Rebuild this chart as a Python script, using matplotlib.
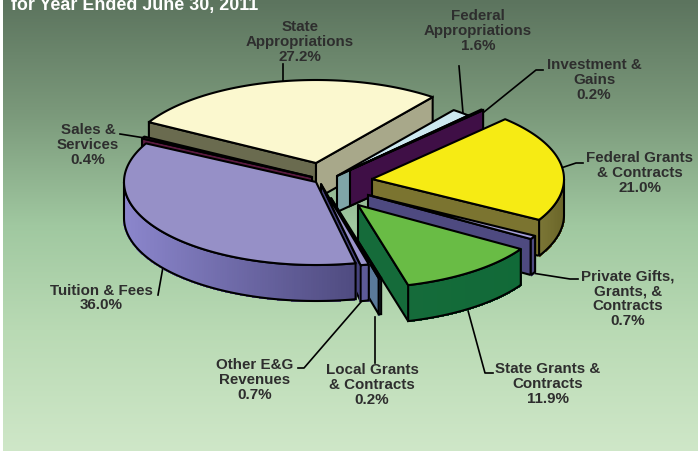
# 3d exploded pie of revenue shares, drawn by hand since matplotlib has no tilted pie
import numpy as np
import matplotlib
matplotlib.use('Agg')
import matplotlib.pyplot as plt
from matplotlib.patches import Polygon
from matplotlib.colors import to_rgb

names = ['State\nAppropriations', 'Federal\nAppropriations', 'Investment &\nGains',
         'Federal Grants\n& Contracts', 'Private Gifts,\nGrants, &\nContracts',
         'State Grants &\nContracts', 'Local Grants\n& Contracts', 'Other E&G\nRevenues',
         'Tuition & Fees', 'Sales &\nServices']
shares = [27.2, 1.6, 0.2, 21.0, 0.7, 11.9, 0.2, 0.7, 36.0, 0.4]
title = 'for Year Ended June 30, 2011'

# layout, in pixels of the 698x451 figure
tip_x = [316, 337, 350, 372, 368, 358, 331, 321, 316, 312]
tip_y = [163, 176, 170, 179, 195, 205, 198, 184, 182, 177]
label_x = [300, 478, 594, 640, 628, 548, 372, 255, 101, 88]
label_y = [42, 31, 80, 173, 299, 384, 385, 380, 298, 145]
leaders = [[(283, 64), (283, 81)],
           [(459, 66), (463, 113)],
           [(543, 70), (536, 70), (484, 112)],
           [(583, 163), (576, 163), (558, 169)],
           [(578, 279), (570, 279), (532, 273)],
           [(493, 373), (485, 373), (467, 307)],
           [(375, 363), (375, 317)],
           [(298, 368), (304, 368), (361, 302)],
           [(158, 295), (163, 267)],
           [(120, 134), (145, 138)]]

top_col = ['#fbf8cf', '#cde9f0', '#5a2560', '#f6eb14', '#a59fd8',
           '#69bc45', '#dfe9ea', '#9a94cc', '#9690c7', '#7a1f4f']
start_face = ['#6a6b4f', '#7fa5a8', '#3f0f46', '#7b7430', '#4e4a80',
              '#156b3a', '#5a7a9a', '#45427c', '#5d5a98', '#5a1a40']
end_face = ['#a8a88a', '#7fa5a8', '#3f0f46', '#7b7430', '#4e4a80',
            '#156b3a', '#5a7a9a', '#45427c', '#5d5a98', '#5a1a40']
rim_left = ['#a8a88a', '#7fa5a8', '#3f0f46', '#7b7636', '#4e4a80',
            '#156b3a', '#5a7a9a', '#5d5a98', '#8b86cc', '#5a1a40']
rim_right = ['#a8a88a', '#7fa5a8', '#3f0f46', '#6a6528', '#4e4a80',
             '#116a38', '#5a7a9a', '#5d5a98', '#4f4b80', '#5a1a40']
draw_order = [0, 1, 2, 3, 4, 5, 9, 6, 7, 8]

rx, ry, depth = 192, 83, 36
start_angle = 150.5
lw = 1.5


def rim(cx, cy, t):
    return cx + rx * np.cos(np.radians(t)), cy - ry * np.sin(np.radians(t))


def draw_slice(ax, i, t0, t1, z):
    cx, cy = tip_x[i], tip_y[i]
    # cut faces, only the ones looking at the viewer
    for t, col, show in [(t0, start_face[i], np.cos(np.radians(t0)) < 0),
                         (t1, end_face[i], np.cos(np.radians(t1)) > 0)]:
        if show:
            x, y = rim(cx, cy, t)
            ax.add_patch(Polygon([(cx, cy), (x, y), (x, y + depth), (cx, cy + depth)],
                                 fc=col, ec='black', lw=lw, zorder=z))
    # outer wall, shaded left to right
    tt = np.linspace(t0, t1, 160)
    tt = tt[np.sin(np.radians(tt)) < 0]
    if len(tt) > 1:
        xs, ys = rim(cx, cy, tt)
        c0, c1 = np.array(to_rgb(rim_left[i])), np.array(to_rgb(rim_right[i]))
        for k in range(len(tt) - 1):
            f = (xs[k] - xs.min()) / max(xs.max() - xs.min(), 1)
            col = c0 + (c1 - c0) * f
            ax.add_patch(Polygon([(xs[k], ys[k]), (xs[k + 1], ys[k + 1]),
                                  (xs[k + 1], ys[k + 1] + depth), (xs[k], ys[k] + depth)],
                                 fc=col, ec=col, lw=1.0, antialiased=False, zorder=z))
        outline = list(zip(xs, ys)) + list(zip(xs[::-1], ys[::-1] + depth))
        ax.add_patch(Polygon(outline, fill=False, ec='black', lw=lw, zorder=z))
    # top
    tt = np.linspace(t0, t1, 160)
    xs, ys = rim(cx, cy, tt)
    ax.add_patch(Polygon([(cx, cy)] + list(zip(xs, ys)), fc=top_col[i], ec='black',
                         lw=lw, zorder=z, joinstyle='round'))


fig = plt.figure(figsize=(6.98, 4.51), dpi=100)
ax = fig.add_axes([0, 0, 1, 1])
ax.axis('off')

# background gradient
stops_y = [0, 110, 225, 330, 451]
stops_r = [92, 122, 160, 185, 207]
stops_g = [116, 152, 200, 218, 231]
stops_b = [94, 122, 160, 180, 200]
yy = np.arange(0, 451)
grad = np.stack([np.interp(yy, stops_y, stops_r), np.interp(yy, stops_y, stops_g),
                 np.interp(yy, stops_y, stops_b)], axis=1)[:, None, :] / 255
ax.imshow(grad, extent=(3, 698, 451, 0), aspect='auto', zorder=0)
ax.set_xlim(0, 698)
ax.set_ylim(451, 0)

# sweep angles come from the shares, clockwise from the start angle
sweeps = np.array(shares) / 100 * 360
ends = start_angle - np.cumsum(sweeps)
starts = ends + sweeps
for z, i in enumerate(draw_order):
    draw_slice(ax, i, starts[i], ends[i], 2 + z)

for i, share in enumerate(shares):
    xs, ys = zip(*leaders[i])
    ax.plot(xs, ys, color='black', lw=1.2, zorder=1.5)
    ax.text(label_x[i], label_y[i], names[i] + '\n' + f'{share:.1f}%', ha='center', va='center',
            family='Liberation Sans', weight='bold', fontsize=10.9, color='#2e2e2e',
            linespacing=1.07, zorder=20)

ax.text(11, 10, title, ha='left', va='baseline', family='Liberation Sans', weight='bold',
        fontsize=12.9, color='white', zorder=20)

fig.savefig('out.png', dpi=100)
